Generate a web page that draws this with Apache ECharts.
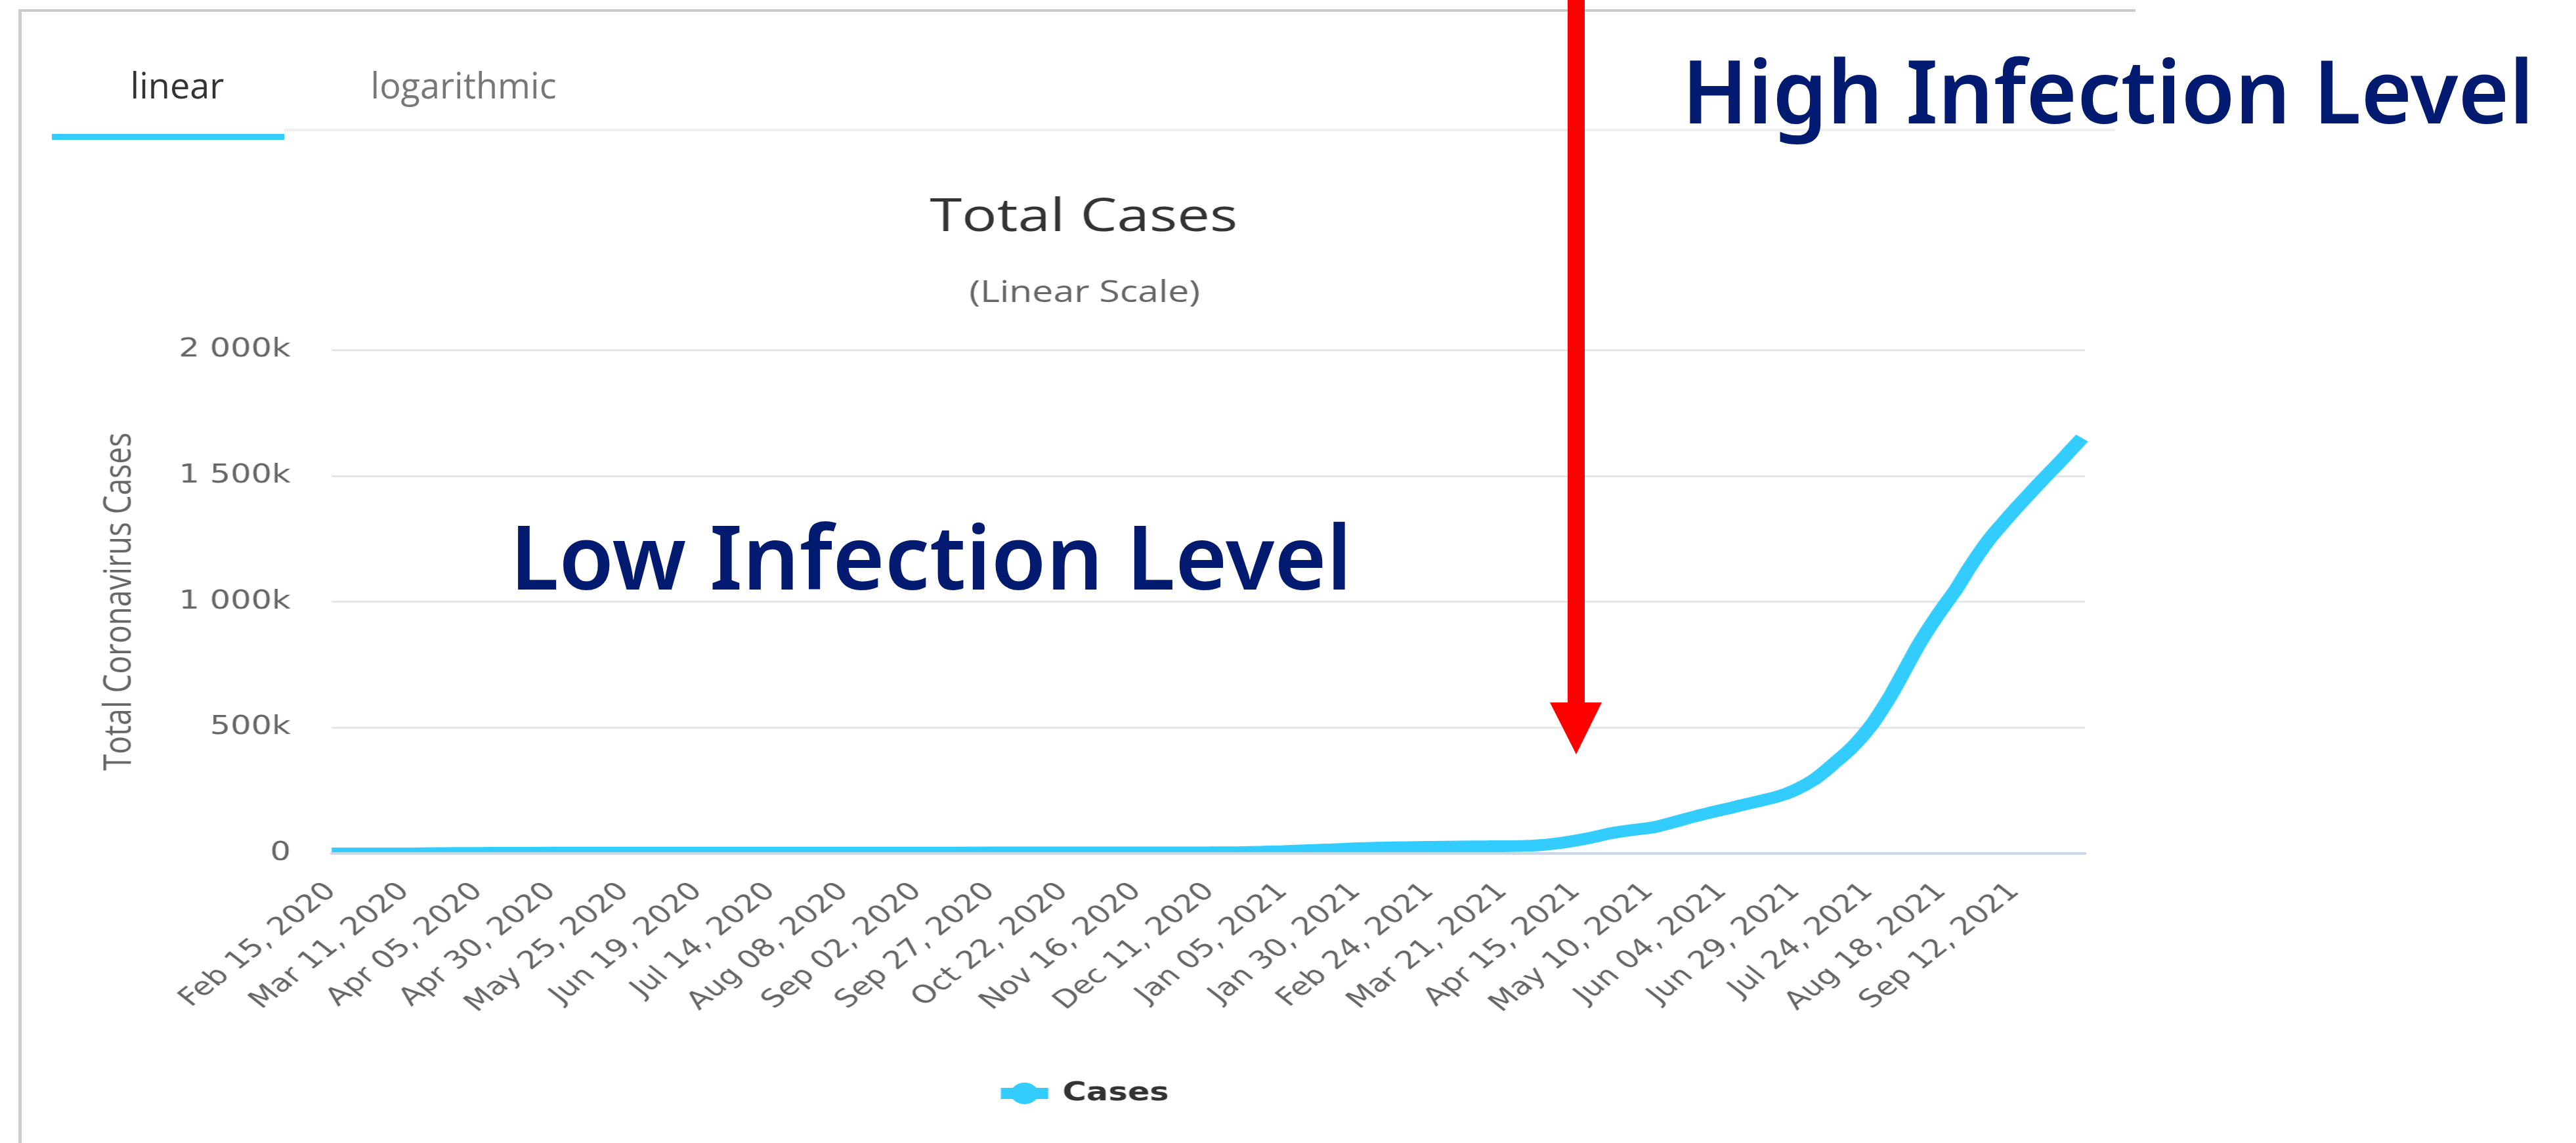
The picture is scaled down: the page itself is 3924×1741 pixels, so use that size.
<!DOCTYPE html>
<html><head><meta charset="utf-8">
<script src="https://cdn.jsdelivr.net/npm/echarts@6/dist/echarts.min.js"></script>
<style>
html,body{margin:0;padding:0;background:#fff;overflow:hidden}
#wrap{position:relative;width:3924px;height:1741px;overflow:hidden;background:#fff}
#chart{position:absolute;left:0;top:0;width:3090px;height:1741px;transform:scaleX(1.269903);transform-origin:0 0}
#overlay{position:absolute;left:0;top:0;width:3924px;height:1741px;pointer-events:none}
</style></head><body>
<div id="wrap"><div id="chart"></div><div id="overlay"></div></div>
<script>
// ---- data ----
const xTickLabels = ['Feb 15, 2020','Mar 11, 2020','Apr 05, 2020','Apr 30, 2020','May 25, 2020','Jun 19, 2020',
  'Jul 14, 2020','Aug 08, 2020','Sep 02, 2020','Sep 27, 2020','Oct 22, 2020','Nov 16, 2020','Dec 11, 2020',
  'Jan 05, 2021','Jan 30, 2021','Feb 24, 2021','Mar 21, 2021','Apr 15, 2021','May 10, 2021','Jun 04, 2021',
  'Jun 29, 2021','Jul 24, 2021','Aug 18, 2021','Sep 12, 2021'];
const yTickLabels = ['0','500k','1 000k','1 500k','2 000k'];
// day index counted from Feb 15, 2020
const caseDays = [0,10,20,28,35,42,50,60,75,100,125,150,175,200,225,250,275,300,310,318,325,340,355,375,395,410,420,430,437,445,452,466,480,494,500,506,510,514,518,521,524,527,530,533,536,539,542,545,548,551,555,559,563,567,571,575,580,585,590,594,598];
const caseValues = [35,40,50,300,1000,1650,2200,2600,2950,3050,3150,3250,3330,3450,3600,3750,3900,4250,5500,7000,9000,15500,22000,26000,28500,31000,42000,62000,80000,94000,105000,148000,187000,226000,252000,290000,325000,365000,405000,440000,480000,525000,578000,635000,698000,762000,825000,882000,935000,985000,1050000,1125000,1195000,1258000,1312000,1365000,1428000,1490000,1550000,1600000,1650000];
const seriesName = 'Cases';
const chartTitle = 'Total Cases';
const chartSubtitle = '(Linear Scale)';
const yAxisTitle = 'Total Coronavirus Cases';
const tabLabels = ['linear','logarithmic'];
const annotationHigh = 'High Infection Level';
const annotationLow = 'Low Infection Level';

const casePairs = caseDays.map((d, i) => [d, caseValues[i]]);

const chart = echarts.init(document.getElementById('chart'));
chart.setOption({
  backgroundColor: '#ffffff',
  animation: false,
  title: [
    {text: chartTitle, left: 1300, top: 297, textAlign: 'center', padding: 0,
     textStyle: {fontFamily: 'Open Sans', fontSize: 70, fontWeight: 'normal', color: '#333333', lineHeight: 70}},
    {text: chartSubtitle, left: 1301, top: 425, textAlign: 'center', padding: 0,
     textStyle: {fontFamily: 'Open Sans', fontSize: 45, fontWeight: 'normal', color: '#666666', lineHeight: 45}}
  ],
  legend: {
    left: 1192, top: 1646, padding: 0, itemWidth: 57, itemHeight: 41,
    lineStyle: {width: 17},
    textStyle: {fontFamily: 'DejaVu Sans', fontWeight: 'bold', fontSize: 39, color: '#333333', padding: [0, 0, 0, 12]},
    data: [seriesName]
  },
  grid: {left: 397.7, right: 589, top: 533, bottom: 441, containLabel: false},
  xAxis: {
    type: 'value', min: 0, max: 599, interval: 25, z: 5,
    axisLine: {show: true, lineStyle: {color: '#ccd6eb', width: 4}},
    axisTick: {show: false},
    splitLine: {show: false},
    axisLabel: {rotate: 45, margin: 52, color: '#666666', fontFamily: 'DejaVu Sans', fontSize: 38,
      formatter: v => (v % 25 === 0 && xTickLabels[v / 25]) ? xTickLabels[v / 25] : ''}
  },
  yAxis: {
    type: 'value', min: 0, max: 2000000, interval: 500000,
    axisLine: {show: false}, axisTick: {show: false},
    splitLine: {lineStyle: {color: '#e6e6e6', width: 3}},
    axisLabel: {margin: 49, color: '#666666', fontFamily: 'DejaVu Sans', fontSize: 39,
      formatter: v => yTickLabels[Math.round(v / 500000)]},
    name: yAxisTitle, nameLocation: 'middle', nameGap: 231,
    nameTextStyle: {color: '#666666', fontFamily: 'Open Sans', fontSize: 46}
  },
  graphic: {elements: [
    {type: 'rect', z: 3, shape: {x: 385, y: 1302, width: 2130, height: 18}, style: {fill: '#ffffff'}}
  ]},
  series: [{
    type: 'line', name: seriesName, data: casePairs, symbol: 'circle', showSymbol: false,
    smooth: 0.3, z: 2,
    lineStyle: {color: '#33ccff', width: 18}, itemStyle: {color: '#33ccff'}
  }]
});

const overlay = echarts.init(document.getElementById('overlay'));
overlay.setOption({
  backgroundColor: 'transparent',
  animation: false,
  graphic: {elements: [
    {type: 'rect', shape: {x: 28, y: 14, width: 3225, height: 4}, style: {fill: '#cccccc'}},
    {type: 'rect', shape: {x: 28, y: 14, width: 5, height: 1727}, style: {fill: '#cccccc'}},
    {type: 'rect', shape: {x: 433, y: 196, width: 2789, height: 4}, style: {fill: '#eeeeee'}},
    {type: 'rect', shape: {x: 79, y: 204, width: 354, height: 9}, style: {fill: '#33ccff'}},
    {type: 'text', x: 270, y: 135, style: {text: tabLabels[0], fontFamily: 'Open Sans', fontSize: 54, fill: '#333333', align: 'center', verticalAlign: 'middle'}},
    {type: 'text', x: 706, y: 135, style: {text: tabLabels[1], fontFamily: 'Open Sans', fontSize: 54, fill: '#777777', align: 'center', verticalAlign: 'middle'}},
    {type: 'rect', shape: {x: 2388, y: 0, width: 26, height: 1072}, style: {fill: '#ff0000'}},
    {type: 'polygon', shape: {points: [[2361, 1070], [2440, 1070], [2401, 1149]]}, style: {fill: '#ff0000'}},
    {type: 'text', x: 2562, y: 150, style: {text: annotationHigh, fontFamily: 'Noto Sans', fontWeight: 600, fontSize: 133, fill: '#021a6f', align: 'left', verticalAlign: 'middle'}},
    {type: 'text', x: 777, y: 859, style: {text: annotationLow, fontFamily: 'Noto Sans', fontWeight: 600, fontSize: 136, fill: '#021a6f', align: 'left', verticalAlign: 'middle'}}
  ]}
});
</script>
</body></html>
